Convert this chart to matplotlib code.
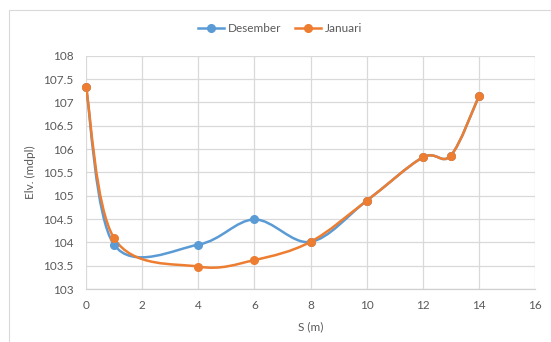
import numpy as np
import matplotlib
matplotlib.use("Agg")
import matplotlib.pyplot as plt
from matplotlib.path import Path
from matplotlib.patches import PathPatch, Rectangle
from matplotlib.lines import Line2D

x_values = [0, 1, 4, 6, 8, 10, 12, 13, 14]
desember = [107.33, 103.95, 103.95, 104.49, 104.01, 104.89, 105.82, 105.86, 107.13]
januari = [107.33, 104.09, 103.48, 103.62, 104.01, 104.89, 105.82, 105.86, 107.13]
x_ticks = [0, 2, 4, 6, 8, 10, 12, 14, 16]
y_ticks = [103, 103.5, 104, 104.5, 105, 105.5, 106, 106.5, 107, 107.5, 108]
series_names = ["Desember", "Januari"]
colors = ["#5B9BD5", "#ED7D31"]

plt.rcParams['font.family'] = ['Lato', 'DejaVu Sans']

W, H = 551, 342
fig = plt.figure(figsize=(W / 100, H / 100), dpi=100)
ax = fig.add_axes([86 / W, 1 - 289 / H, (535 - 86) / W, (289 - 55.7) / H])

# chart border (top and left visible)
fig.patches.append(Rectangle((9 / W, -0.05), 1.2, 1 - 10 / H + 0.05, transform=fig.transFigure,
                             fill=False, edgecolor="#D9D9D9", linewidth=0.8))


def smooth_path(xs, ys):
    pts = np.column_stack([xs, ys]).astype(float)
    n = len(pts)
    verts = [pts[0]]
    codes = [Path.MOVETO]
    for i in range(n - 1):
        p0 = pts[i - 1] if i > 0 else pts[i]
        p1 = pts[i]
        p2 = pts[i + 1]
        p3 = pts[i + 2] if i + 2 < n else pts[i + 1]
        c1 = p1 + (p2 - p0) / 6.0
        c2 = p2 - (p3 - p1) / 6.0
        verts += [c1, c2, p2]
        codes += [Path.CURVE4] * 3
    return Path(verts, codes)


for ys, c in zip([desember, januari], colors):
    ax.add_patch(PathPatch(smooth_path(x_values, ys), facecolor="none", edgecolor=c,
                           linewidth=1.8, zorder=3, capstyle="round"))
    ax.plot(x_values, ys, linestyle="none", marker="o", markersize=5.5, color=c, zorder=4,
            clip_on=False)

ax.set_xlim(0, 16)
ax.set_ylim(103, 108)
ax.set_xticks(x_ticks)
ax.set_yticks(y_ticks)
ax.set_xticklabels([str(v) for v in x_ticks])
ax.set_yticklabels([("%g" % v) for v in y_ticks])
ax.grid(True, color="#D9D9D9", linewidth=0.9)
ax.set_axisbelow(True)
for s in ["top", "right", "left"]:
    ax.spines[s].set_visible(False)
ax.spines["bottom"].set_color("#D0D0D0")
ax.spines["bottom"].set_linewidth(0.9)
ax.tick_params(length=0, colors="#595959", labelsize=8.5)
ax.tick_params(axis="y", pad=9)
ax.tick_params(axis="x", pad=8)
ax.set_xlabel("S (m)", color="#595959", fontsize=8.5, labelpad=7)
ax.set_ylabel("Elv. (mdpl)", color="#595959", fontsize=8.5, labelpad=5)

handles = [Line2D([], [], color=c, marker="o", markersize=5.5, linewidth=1.8) for c in colors]
fig.legend(handles, series_names, loc="center", bbox_to_anchor=(280 / W, 1 - 29 / H),
           ncol=2, frameon=False, fontsize=8.5, labelcolor="#595959",
           handlelength=2.2, handletextpad=0.3, columnspacing=1.2)

fig.savefig("out.png", dpi=100)
